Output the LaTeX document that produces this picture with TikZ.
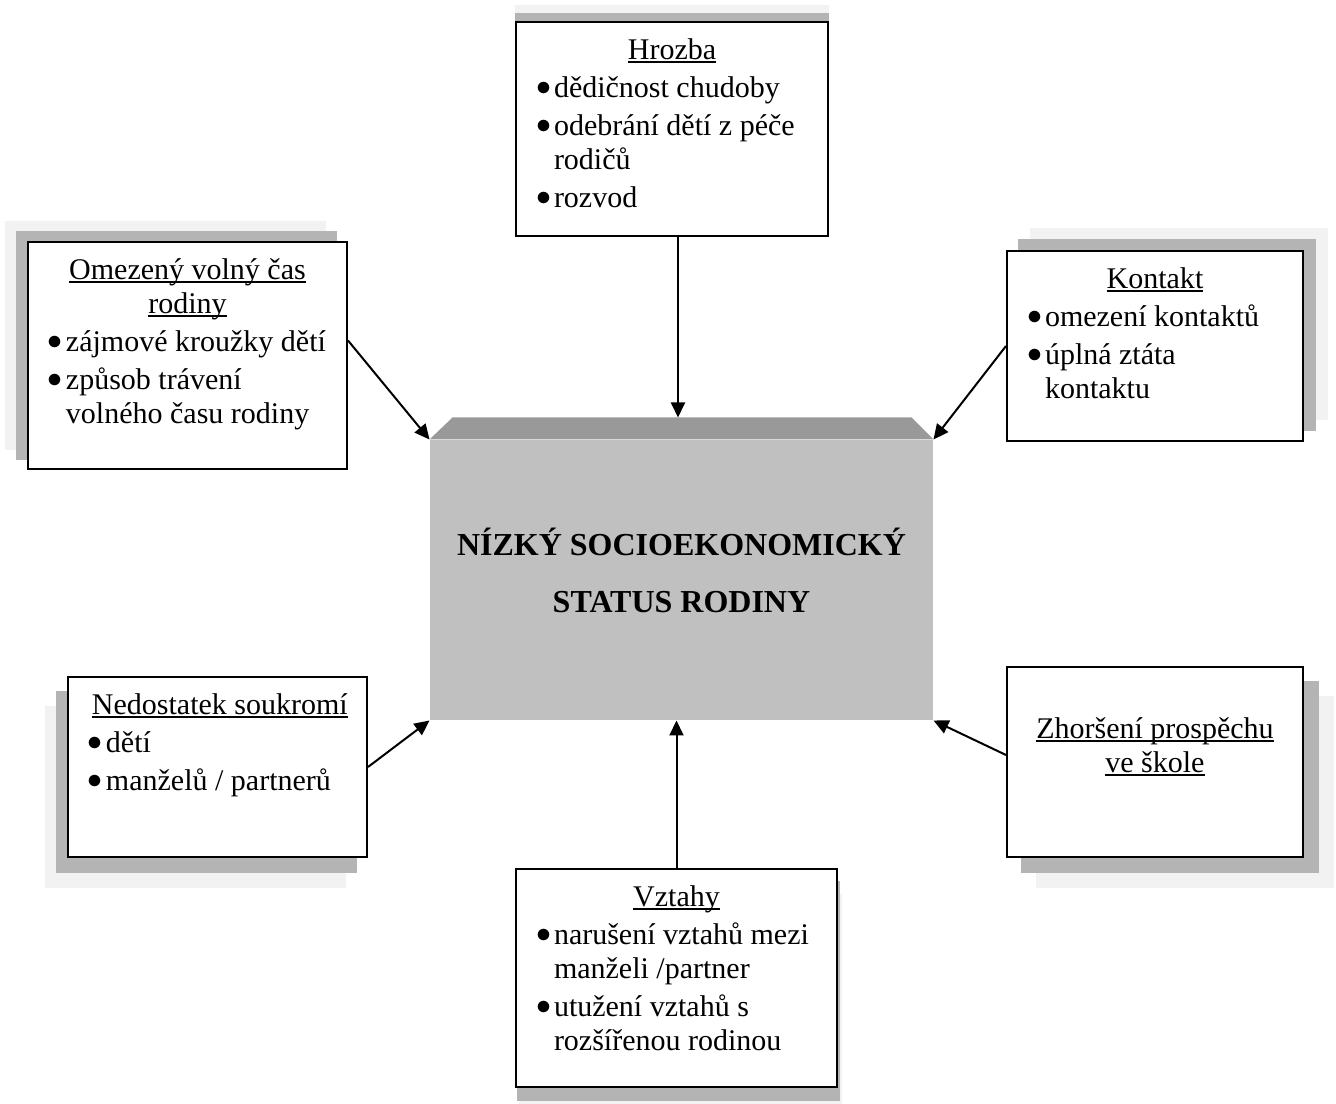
\documentclass[tikz,border=0pt]{standalone}
\usepackage{fontspec}
\setmainfont{Liberation Serif}
\usetikzlibrary{arrows.meta,backgrounds}

\definecolor{shadowdark}{HTML}{B4B4B4}
\definecolor{shadowlight}{HTML}{F2F2F2}
\definecolor{facegray}{HTML}{C0C0C0}
\definecolor{bevelgray}{HTML}{999999}

\newcommand{\undl}[1]{\leavevmode\setbox0\hbox{#1}\rlap{\rule[-1.4pt]{\wd0}{0.6pt}}\box0}
\newcommand{\ttl}[1]{{\centering\strut#1\par}}
\newcommand{\itm}[1]{\par\hangindent=5.6pt\hangafter=1\noindent\makebox[5.6pt][l]{\hspace{-1.6pt}\raisebox{0.6pt}{$\bullet$}}\mbox{#1}}
\newcommand{\cnt}[1]{\newline\mbox{#1}}
\newcommand{\boxbody}[3]{\parbox[c][\dimexpr#2-10.8pt\relax][t]{\dimexpr#1-19.2pt\relax}{\raggedright\setlength{\parskip}{1.6pt}#3}}

\begin{document}
\begin{tikzpicture}[x=0.4pt, y=-0.4pt,
  every node/.style={font=\fontsize{12}{13.6}\selectfont},
  infobox/.style={draw=black, line width=.8pt, fill=white, inner xsep=9.6pt, inner ysep=5.4pt},
  arr/.style={-{Triangle[length=6pt,width=5.6pt]}, line width=.8pt}]
\useasboundingbox (0,0) rectangle (1336,1104);

% central box
\node[fill=facegray, minimum width=201.2pt, minimum height=112pt, inner sep=0,
  label={[font=\fontsize{12.8}{22.8}\selectfont\bfseries, align=center, yshift=4pt]center:NÍZKÝ SOCIOEKONOMICKÝ\\STATUS RODINY}] (status) at (681.5,580) {};
\fill[bevelgray] (status.north west) -- ([shift={(23,-22)}]status.north west)
  -- ([shift={(-22,-22)}]status.north east) -- (status.north east) -- cycle;
\coordinate (bevtop) at ([shift={(-3.5,-22)}]status.north);

% outer boxes
\node[infobox] (hrozba) at (672,129) {\boxbody{124.8pt}{85.6pt}{\ttl{\undl{Hrozba}}
  \itm{dědičnost chudoby}
  \itm{odebrání dětí z péče}\cnt{rodičů}
  \itm{rozvod}}};
\node[infobox] (omez) at (187.5,355.5) {\boxbody{127.6pt}{90.8pt}{\ttl{\undl{Omezený volný čas}\\\undl{rodiny}}
  \itm{zájmové kroužky dětí}
  \itm{způsob trávení}\cnt{volného času rodiny}}};
\node[infobox] (kont) at (1155,346) {\boxbody{118.4pt}{76pt}{\ttl{\undl{Kontakt}}
  \itm{omezení kontaktů}
  \itm{úplná ztáta}\cnt{kontaktu}}};
\node[infobox] (nedo) at (217.5,767) {\boxbody{119.6pt}{72pt}{\ttl{\undl{Nedostatek soukromí}}
  \itm{dětí}
  \itm{manželů / partnerů}}};
\node[infobox] (zhor) at (1155,762) {\boxbody{118.4pt}{76pt}{\vspace*{12pt}\ttl{\undl{Zhoršení prospěchu}\\\undl{ve škole}}}};
\node[infobox] (vzt) at (676.5,978) {\boxbody{128.4pt}{87.2pt}{\ttl{\undl{Vztahy}}
  \itm{narušení vztahů mezi}\cnt{manželi /partner}
  \itm{utužení vztahů s}\cnt{rozšířenou rodinou}}};

% shadows
\begin{scope}[on background layer]
\foreach \n/\dx/\dy in {hrozba/0/-8, omez/-11/-10, kont/12/-11, nedo/-11/15, zhor/15/15, vzt/2/13} {
  \fill[shadowlight] ([shift={(2*\dx,2*\dy)}]\n.south west) rectangle ([shift={(2*\dx,2*\dy)}]\n.north east);
  \fill[shadowdark] ([shift={(\dx,\dy)}]\n.south west) rectangle ([shift={(\dx,\dy)}]\n.north east);
}
\end{scope}

% arrows
\draw[arr] (hrozba.south -| bevtop) -- (bevtop);
\draw[arr] ([yshift=6pt]omez.east) -- (status.north west);
\draw[arr] (kont.west) -- (status.north east);
\draw[arr] (nedo.east) -- (status.south west);
\draw[arr] ([yshift=2.8pt]zhor.west) -- (status.south east);
\draw[arr] (vzt.north) -- (vzt.north |- status.south);
\end{tikzpicture}
\end{document}
